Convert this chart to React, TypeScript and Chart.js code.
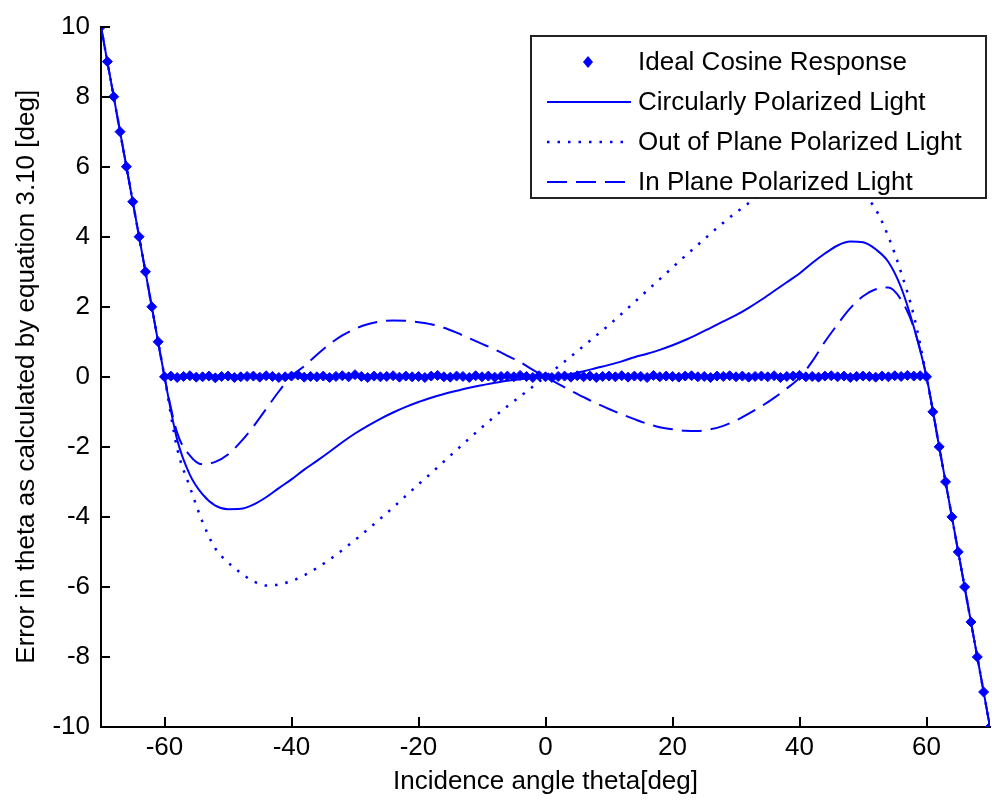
import React, { useEffect, useRef } from 'react';
import { Chart, registerables } from 'chart.js';

Chart.register(...registerables);

const FONT = "'Liberation Sans', Arial, Helvetica, sans-serif";
const BLUE = '#0000ff';

// Incidence angles (deg) for the ideal cosine response markers
const angleDeg = [
  -70, -69, -68, -67, -66, -65, -64, -63, -62, -61,
  -60, -59, -58, -57, -56, -55, -54, -53, -52, -51,
  -50, -49, -48, -47, -46, -45, -44, -43, -42, -41,
  -40, -39, -38, -37, -36, -35, -34, -33, -32, -31,
  -30, -29, -28, -27, -26, -25, -24, -23, -22, -21,
  -20, -19, -18, -17, -16, -15, -14, -13, -12, -11,
  -10, -9, -8, -7, -6, -5, -4, -3, -2, -1,
  0,
  1, 2, 3, 4, 5, 6, 7, 8, 9, 10,
  11, 12, 13, 14, 15, 16, 17, 18, 19, 20,
  21, 22, 23, 24, 25, 26, 27, 28, 29, 30,
  31, 32, 33, 34, 35, 36, 37, 38, 39, 40,
  41, 42, 43, 44, 45, 46, 47, 48, 49, 50,
  51, 52, 53, 54, 55, 56, 57, 58, 59, 60,
  61, 62, 63, 64, 65, 66, 67, 68, 69, 70,
];

const idealResponse = [
  10, 9, 8, 7, 6, 5, 4, 3, 2, 1,
  0, 0.02, -0.02, 0.01, 0.03, -0.01, 0, 0.02, -0.03, 0.01,
  0.02, -0.02, 0, 0.01, 0.02, -0.01, 0.03, 0.01, -0.02, 0,
  0.02, 0.05, -0.01, 0.01, 0, 0.02, -0.02, 0.01, 0.03, 0,
  0.06, 0.01, -0.02, 0.02, 0, 0.01, 0.03, -0.01, 0.02, 0,
  0.01, -0.02, 0.02, 0.04, 0, -0.01, 0.02, 0.01, -0.02, 0.03,
  0, 0.02, -0.01, 0.01, 0.02, 0, 0.04, 0.01, -0.02, 0.03,
  0,
  -0.02, 0.01, 0.02, -0.01, 0.03, 0, 0.02, -0.02, 0.01, 0.02,
  0, 0.03, -0.01, 0.02, 0.01, -0.02, 0.04, 0, 0.02, 0.01,
  -0.01, 0.02, 0.03, 0, 0.01, -0.02, 0.02, 0.01, 0.03, 0,
  0.02, -0.01, 0.01, 0.02, 0, 0.03, -0.02, 0.01, 0.02, 0.04,
  0, 0.01, -0.01, 0.02, 0.03, 0, 0.02, -0.02, 0.01, 0.02,
  0.01, -0.01, 0.02, 0, 0.03, 0.01, 0.04, 0.02, 0.03, 0,
  -1, -2, -3, -4, -5, -6, -7, -8, -9, -10,
];

// Incidence angles (deg) for the three polarization curves
const curveAngleDeg = [
  -70, -68, -66, -64, -62, -60, -58, -56, -54, -52,
  -50, -48, -46, -44, -42, -40, -38, -36, -34, -32,
  -30, -28, -26, -24, -22, -20, -18, -16, -14, -12,
  -10, -8, -6, -4, -2, 0, 2, 4, 6, 8,
  10, 12, 14, 16, 18, 20, 22, 24, 26, 28,
  30, 32, 34, 36, 38, 40, 42, 44, 46, 48,
  50, 52, 54, 56, 58, 60, 62, 64, 66, 68,
  70,
];

const circularLight = [
  10, 8, 6, 4, 2, 0, -1.8, -2.8, -3.36, -3.68,
  -3.78, -3.77, -3.65, -3.44, -3.18, -2.93, -2.65, -2.4, -2.14, -1.87,
  -1.62, -1.4, -1.2, -1.02, -0.86, -0.72, -0.6, -0.49, -0.4, -0.31,
  -0.24, -0.17, -0.11, -0.07, -0.03, 0, 0.03, 0.08, 0.16, 0.25,
  0.34, 0.44, 0.56, 0.66, 0.77, 0.9, 1.05, 1.22, 1.4, 1.58,
  1.76, 1.97, 2.2, 2.45, 2.7, 2.95, 3.25, 3.52, 3.75, 3.86,
  3.84, 3.64, 3.28, 2.55, 1.42, 0, -2, -4, -6, -8,
  -10,
];

const outOfPlaneLight = [
  10, 8, 6, 4, 2, 0, -2.05, -3.15, -4.15, -4.9,
  -5.3, -5.6, -5.84, -5.96, -5.93, -5.83, -5.67, -5.46, -5.22, -4.95,
  -4.66, -4.36, -4.05, -3.73, -3.4, -3.07, -2.75, -2.42, -2.09, -1.76,
  -1.44, -1.13, -0.84, -0.56, -0.28, 0, 0.29, 0.58, 0.88, 1.18,
  1.48, 1.8, 2.13, 2.46, 2.79, 3.12, 3.45, 3.77, 4.09, 4.4,
  4.69, 4.96, 5.22, 5.46, 5.66, 5.83, 5.94, 5.97, 5.86, 5.6,
  5.24, 4.78, 4.0, 2.98, 1.75, 0, -2, -4, -6, -8,
  -10,
];

const inPlaneLight = [
  10, 8, 6, 4, 2, 0, -1.6, -2.25, -2.5, -2.43,
  -2.22, -1.86, -1.42, -0.92, -0.42, 0.02, 0.3, 0.63, 0.93, 1.18,
  1.37, 1.5, 1.58, 1.61, 1.6, 1.56, 1.5, 1.4, 1.26, 1.1,
  0.94, 0.78, 0.6, 0.42, 0.2, 0, -0.2, -0.4, -0.58, -0.76,
  -0.92, -1.07, -1.21, -1.34, -1.44, -1.5, -1.54, -1.55, -1.5, -1.4,
  -1.25, -1.05, -0.84, -0.6, -0.33, -0.03, 0.44, 1.0, 1.5, 1.96,
  2.3, 2.5, 2.55, 2.2, 1.4, 0, -2, -4, -6, -8,
  -10,
];

const seriesLabels = [
  'Ideal Cosine Response',
  'Circularly Polarized Light',
  'Out of Plane Polarized Light',
  'In Plane Polarized Light',
];

const xTickValues = [-60, -40, -20, 0, 20, 40, 60];
const yTickValues = [-10, -8, -6, -4, -2, 0, 2, 4, 6, 8, 10];

const xTitle = 'Incidence angle theta[deg]';
const yTitle = 'Error in theta as calculated by equation 3.10 [deg]';

const toPoints = (xs: number[], ys: number[]) => xs.map((x, i) => ({ x, y: ys[i] }));

const inwardTicks = {
  id: 'inwardTicks',
  afterDatasetsDraw(chart: any) {
    const { ctx, chartArea, scales } = chart;
    const xs = scales.x;
    const ys = scales.y;
    ctx.save();
    ctx.strokeStyle = '#000';
    ctx.lineWidth = 2;
    ys.ticks.forEach((t: any) => {
      const py = Math.round(ys.getPixelForValue(t.value));
      ctx.beginPath();
      ctx.moveTo(chartArea.left, py);
      ctx.lineTo(chartArea.left + 9, py);
      ctx.stroke();
    });
    xs.ticks.forEach((t: any) => {
      const px = Math.round(xs.getPixelForValue(t.value));
      ctx.beginPath();
      ctx.moveTo(px, chartArea.bottom);
      ctx.lineTo(px, chartArea.bottom - 10);
      ctx.stroke();
    });
    ctx.restore();
  },
};

const boxLegend = {
  id: 'boxLegend',
  afterDraw(chart: any) {
    const { ctx } = chart;
    const bx = 531, by = 36, bw = 455, bh = 162;
    ctx.save();
    ctx.fillStyle = '#fff';
    ctx.fillRect(bx, by, bw, bh);
    ctx.strokeStyle = '#222';
    ctx.lineWidth = 2;
    ctx.strokeRect(bx, by, bw, bh);
    chart.data.datasets.forEach((ds: any, i: number) => {
      const cy = 62 + i * 40;
      ctx.strokeStyle = ds.borderColor;
      ctx.fillStyle = ds.borderColor;
      if (ds.showLine === false) {
        const r = 5;
        ctx.beginPath();
        ctx.moveTo(588, cy - r - 1);
        ctx.lineTo(588 + r, cy);
        ctx.lineTo(588, cy + r + 1);
        ctx.lineTo(588 - r, cy);
        ctx.closePath();
        ctx.fill();
      } else {
        ctx.lineWidth = ds.borderWidth;
        ctx.setLineDash(ds.borderDash || []);
        ctx.beginPath();
        ctx.moveTo(547, cy);
        ctx.lineTo(631, cy);
        ctx.stroke();
        ctx.setLineDash([]);
      }
      ctx.fillStyle = '#000';
      ctx.font = `26px ${FONT}`;
      ctx.textBaseline = 'alphabetic';
      ctx.textAlign = 'left';
      ctx.fillText(ds.label, 638, cy + 8);
    });
    ctx.restore();
  },
};

export default function App() {
  const canvasRef = useRef<HTMLCanvasElement | null>(null);

  useEffect(() => {
    if (!canvasRef.current) return;
    const chart = new Chart(canvasRef.current, {
      type: 'line',
      data: {
        datasets: [
          {
            label: seriesLabels[0],
            data: toPoints(angleDeg, idealResponse),
            showLine: false,
            borderColor: BLUE,
            backgroundColor: BLUE,
            pointStyle: 'rectRot',
            pointRadius: 5,
            pointBorderWidth: 1,
            pointBorderColor: BLUE,
            pointBackgroundColor: BLUE,
            order: 4,
          },
          {
            label: seriesLabels[1],
            data: toPoints(curveAngleDeg, circularLight),
            borderColor: BLUE,
            borderWidth: 2,
            pointRadius: 0,
            cubicInterpolationMode: 'monotone',
            order: 3,
          },
          {
            label: seriesLabels[2],
            data: toPoints(curveAngleDeg, outOfPlaneLight),
            borderColor: BLUE,
            borderWidth: 2.5,
            borderDash: [2.5, 8],
            pointRadius: 0,
            cubicInterpolationMode: 'monotone',
            order: 2,
          },
          {
            label: seriesLabels[3],
            data: toPoints(curveAngleDeg, inPlaneLight),
            borderColor: BLUE,
            borderWidth: 2,
            borderDash: [20, 9],
            pointRadius: 0,
            cubicInterpolationMode: 'monotone',
            order: 1,
          },
        ] as any,
      },
      options: {
        responsive: false,
        animation: false,
        devicePixelRatio: 1,
        layout: { padding: { left: 0, right: 1, top: 23, bottom: 0 } },
        plugins: {
          legend: { display: false },
          tooltip: { enabled: false },
        },
        scales: {
          x: {
            type: 'linear',
            min: -70,
            max: 70,
            afterBuildTicks: (scale: any) => {
              scale.ticks = xTickValues.map((v) => ({ value: v }));
            },
            afterFit: (scale: any) => {
              scale.height = 75;
            },
            grid: { display: false, drawTicks: false, tickLength: 0 },
            border: { display: true, color: '#000', width: 2 },
            ticks: {
              color: '#000',
              font: { family: FONT, size: 26 },
              padding: 5,
              maxRotation: 0,
              autoSkip: false,
            },
            title: {
              display: true,
              text: xTitle,
              color: '#000',
              font: { family: FONT, size: 26 },
              padding: { top: 0, bottom: 5 },
            },
          },
          y: {
            type: 'linear',
            min: -10,
            max: 10,
            afterBuildTicks: (scale: any) => {
              scale.ticks = yTickValues.map((v) => ({ value: v }));
            },
            afterFit: (scale: any) => {
              scale.width = 101;
            },
            grid: { display: false, drawTicks: false, tickLength: 0 },
            border: { display: true, color: '#000', width: 2 },
            ticks: {
              color: '#000',
              font: { family: FONT, size: 26 },
              padding: 11,
              autoSkip: false,
            },
            title: {
              display: true,
              text: yTitle,
              color: '#000',
              font: { family: FONT, size: 26 },
              padding: { top: 11, bottom: 0 },
            },
          },
        },
      } as any,
      plugins: [inwardTicks, boxLegend],
    });
    return () => chart.destroy();
  }, []);

  return (
    <div
      style={{
        position: 'fixed',
        left: 0,
        top: 0,
        width: 992,
        height: 802,
        overflow: 'hidden',
        background: '#fff',
      }}
    >
      <canvas ref={canvasRef} width={996} height={802} style={{ width: 996, height: 802, display: 'block' }} />
    </div>
  );
}
